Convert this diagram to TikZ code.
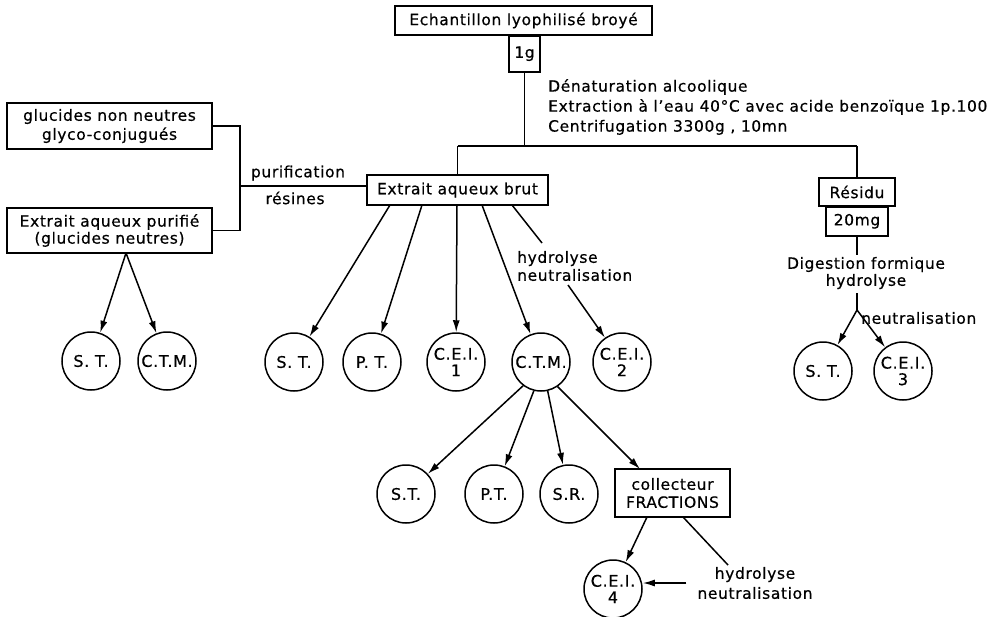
\documentclass[tikz,border=0pt]{standalone}
\usepackage{fontspec}
\setmainfont{DejaVu Sans}[LetterSpace=4,FakeBold=0.5]
\usetikzlibrary{arrows.meta}
\newcommand{\fsA}{\fontsize{15.5}{18}\selectfont}
\newcommand{\fsC}{\fontsize{16}{16.5}\selectfont}
\begin{document}
\begin{tikzpicture}[x=1pt,y=-1pt,
  box/.style={draw, line width=1.5pt, inner sep=0pt, align=center, font=\fsA},
  circ/.style={draw, circle, line width=1.5pt, minimum size=58pt, inner sep=0pt, align=center, font=\fsC},
  lbl/.style={inner sep=0pt, align=center, font=\fsA},
  ln/.style={line width=1.5pt},
  arr/.style={line width=1.5pt, -{Latex[length=12pt,width=7pt]}}]
\useasboundingbox[fill=white] (0,0) rectangle (990,616);

% top
\node[box, minimum width=257pt, minimum height=29pt] (top) at (523.5,20.5) {Echantillon lyophilisé broyé};
\node[box, minimum width=31pt, minimum height=36pt, anchor=north] (g1) at (524.5,35) {1g};
\node[lbl, anchor=west, align=left, font=\fontsize{15.5}{20}\selectfont] (proc) at (548,107)
  {Dénaturation alcoolique\\Extraction à l'eau 40°C avec acide benzoïque 1p.100\\Centrifugation 3300g , 10mn};
\coordinate (j1) at (524.5,146);
\coordinate (jl) at (457.5,146);
\coordinate (jr) at (857,146);
\draw[ln] (g1.south) -- (j1);
\draw[ln] (jl) -- (jr);

% main boxes
\node[box, minimum width=181pt, minimum height=30pt] (brut) at (457.5,190) {Extrait aqueux brut};
\node[box, minimum width=76pt, minimum height=28pt] (res) at (857,192) {Résidu};
\node[box, minimum width=62pt, minimum height=29pt, anchor=north] (mg) at (857,206) {20mg};
\draw[ln] (jl) -- (brut.north);
\draw[ln] (jr) -- (res.north);

% right branch
\node[lbl, font=\fontsize{15.5}{17}\selectfont] (dig) at (866,273) {Digestion formique\\hydrolyse};
\coordinate (dtop) at (857,255);
\coordinate (dbot) at (857,293);
\coordinate (fork) at (857,310);
\draw[ln] (mg.south) -- (dtop);
\draw[ln] (dbot) -- (fork);
\node[circ] (st3) at (823,371) {S. T.};
\node[circ] (cei3) at (903,371) {C.E.I.\\3};
\draw[arr] (fork) -- (st3);
\draw[arr] (fork) -- (cei3);
\node[lbl, anchor=west] (neu3) at (861,318) {neutralisation};

% left
\node[box, minimum width=205pt, minimum height=46pt, font=\fontsize{15.5}{19}\selectfont] (glu) at (109.5,126) {glucides non neutres\\glyco-conjugués};
\node[box, minimum width=205pt, minimum height=45pt, font=\fontsize{15.5}{17}\selectfont] (pur) at (109.5,230.5) {Extrait aqueux purifié\\(glucides neutres)};
\coordinate (bt) at (240,126);
\coordinate (bb) at (240,230.5);
\coordinate (bm) at (240,186);
\draw[ln] (glu.east) -- (bt) -- (bb) -- (pur.east);
\draw[ln] (bm) -- (brut.west |- bm);
\node[lbl] (purif) at (298,173) {purification};
\node[lbl] (resin) at (295,198) {résines};
\coordinate (pb) at (126,253);
\node[circ] (st0) at (91,361) {S. T.};
\node[circ] (ctm0) at (167,361) {C.T.M.};
\draw[arr] (pb) -- (st0);
\draw[arr] (pb) -- (ctm0);

% middle circles
\node[circ] (st1) at (294,362) {S. T.};
\node[circ] (pt1) at (372,362) {P. T.};
\node[circ] (cei1) at (456,362) {C.E.I.\\1};
\node[circ] (ctm1) at (541,362) {C.T.M.};
\node[circ] (cei2) at (622,362) {C.E.I.\\2};
\coordinate (b1) at (390,205);
\coordinate (b2) at (422,205);
\coordinate (b3) at (457,205);
\coordinate (b4) at (482,205);
\coordinate (b5) at (512,205);
\draw[arr] (b1) -- (st1);
\draw[arr] (b2) -- (pt1);
\draw[arr] (b3) -- (cei1);
\draw[arr] (b4) -- (ctm1);
\node[lbl, anchor=west, align=left] (hy2) at (517,266) {hydrolyse\\neutralisation};
\coordinate (h2a) at (542,243);
\coordinate (h2b) at (568,285);
\draw[ln] (b5) -- (h2a);
\draw[arr] (h2b) -- (cei2);

% bottom
\node[circ] (st2) at (406,494) {S.T.};
\node[circ] (pt2) at (494,494) {P.T.};
\node[circ] (sr2) at (569,494) {S.R.};
\node[box, minimum width=115pt, minimum height=48pt] (coll) at (672.5,493) {collecteur\\FRACTIONS};
\coordinate (ct) at (640,469);
\draw[arr] (ctm1.-127) -- (st2);
\draw[arr] (ctm1.-104) -- (pt2);
\draw[arr] (ctm1.-77) -- (sr2);
\draw[arr] (ctm1.-56) -- (ct);
\node[circ] (cei4) at (613,589) {C.E.I.\\4};
\coordinate (c1) at (647,517);
\coordinate (c2) at (683,517);
\coordinate (c3) at (728,565);
\draw[arr] (c1) -- (cei4);
\draw[ln] (c2) -- (c3);
\node[lbl, font=\fontsize{15.5}{20}\selectfont] (hy4) at (755,583) {hydrolyse\\neutralisation};
\draw[arr, shorten <=11pt] (hy4.west) -- (cei4.east |- hy4.west);
\end{tikzpicture}
\end{document}
